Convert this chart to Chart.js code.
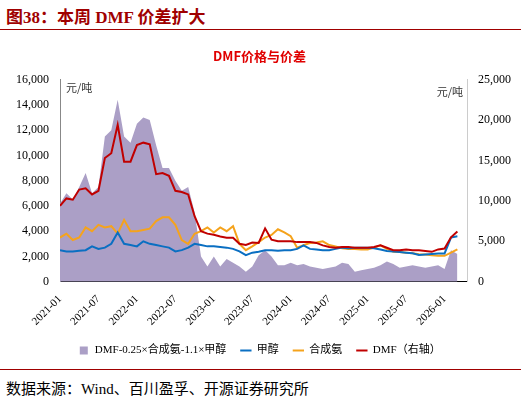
<!DOCTYPE html>
<html><head><meta charset="utf-8">
<script src="https://cdn.jsdelivr.net/npm/chart.js@4/dist/chart.umd.min.js"></script>
<style>
body{margin:0;width:521px;height:405px;background:#fff;overflow:hidden;font-family:"Liberation Serif","Noto Sans CJK SC",serif}
#hd{position:absolute;left:6px;top:3px;font-size:17px;font-weight:bold;color:#a00000;font-family:"Liberation Serif","Noto Sans CJK SC",serif}
#l1{position:absolute;left:0;top:29px;width:521px;height:1px;background:#a00000}
#l2{position:absolute;left:0;top:369px;width:521px;height:1px;background:#a00000}
#ft{position:absolute;left:6px;top:377px;font-size:15px;color:#000}
#wrap{position:absolute;left:0;top:38px;width:521px;height:328px}
</style></head><body>
<div id="hd">图38：本周 DMF 价差扩大</div><div id="l1"></div>
<div id="wrap"><canvas id="c"></canvas></div>
<div id="l2"></div>
<div id="ft">数据来源：Wind、百川盈孚、开源证券研究所</div>
<script>
// months 2021-01 .. 2026-03
const startYear = 2021;
const months = [];
for (let i = 0; i < 63; i++) { const y = startYear + Math.floor(i/12), m = i%12+1; months.push(y + '-' + String(m).padStart(2,'0')); }
const spread = [6200,7000,6500,7500,8600,7000,7500,11500,12000,14400,11500,11000,
 12500,13000,12800,10800,9000,9000,8000,7200,7500,5500,2000,1200,
 2000,1200,1800,1500,1200,800,1200,2100,2500,2000,1300,1300,
 1500,1300,1400,1200,1100,1000,1100,1200,1500,1400,800,900,
 1000,1100,1300,1600,1400,1100,1200,1300,1200,1100,1200,1300,
 1000,2500,2200];
const methanol = [2500,2400,2400,2450,2500,2800,2600,2700,3000,3900,3000,2900,
 2800,3200,3000,2900,2800,2700,2400,2500,2700,3000,2900,2800,
 2800,2750,2700,2600,2400,2100,2300,2370,2500,2500,2450,2500,
 2500,2600,2880,2600,2550,2500,2500,2600,2700,2650,2700,2700,
 2690,2650,2550,2430,2400,2350,2300,2250,2110,2150,2200,2240,
 2240,3500,3600];
const ammonia = [3500,3800,3300,3500,4300,4000,4500,4300,4400,3800,4900,4000,
 4000,4100,4200,4800,5100,5100,4500,3300,3000,3800,4000,4300,
 3900,4300,4000,4400,3000,2500,2800,3140,3500,3700,4150,3900,
 3600,2700,2900,3070,3100,3200,2900,2800,2650,2600,2600,2560,
 2560,2700,2880,2600,2370,2350,2300,2250,2180,2150,2100,2050,
 2050,2300,2560];
const dmf = [9400,10300,10150,11400,11550,10800,11250,15300,15900,19400,14850,14850,
 16900,17200,17000,13300,13450,13100,11250,11100,10800,8100,6250,5950,
 5800,5600,5450,5450,4700,4550,4850,4800,6600,5200,5000,5000,
 5000,4900,4900,4900,4800,4500,4300,4200,4300,4300,4200,4200,
 4200,4300,4500,4200,3900,3900,4000,3900,3900,3800,3700,4000,
 4100,5500,6200];
const leftTicks = [0,2000,4000,6000,8000,10000,12000,14000,16000];
const rightTicks = [0,5000,10000,15000,20000,25000];

const pts = a => a.map((v,i)=>({x:i,y:v}));
const fmt = v => v.toLocaleString('en-US');
const serif = '"Liberation Serif","Noto Sans CJK SC",serif';
const unitPlugin = {id:'unit',afterDraw(ch){const c=ch.ctx,a=ch.chartArea;c.save();c.font='11px "Noto Sans CJK SC"';c.fillStyle='#333';
 c.textAlign='left';c.fillText('元/吨',a.left+6,a.top+8);c.textAlign='right';c.fillText('元/吨',a.right-4,a.top+12);c.restore();}};
new Chart(document.getElementById('c'),{
 type:'line',
 data:{datasets:[
  {label:'DMF-0.25×合成氨-1.1×甲醇',data:pts(spread),yAxisID:'y',fill:'origin',backgroundColor:'#ab9fc6',borderWidth:0,pointRadius:0,pointStyle:'rect',order:4},
  {label:'甲醇',data:pts(methanol),yAxisID:'y',borderColor:'#0a6fc2',borderWidth:2,pointRadius:0,pointStyle:'line',order:2},
  {label:'合成氨',data:pts(ammonia),yAxisID:'y',borderColor:'#f5a31c',borderWidth:2,pointRadius:0,pointStyle:'line',order:3},
  {label:'DMF（右轴）',data:pts(dmf),yAxisID:'y1',borderColor:'#c00000',borderWidth:2,pointRadius:0,pointStyle:'line',order:1}
 ]},
 options:{responsive:true,maintainAspectRatio:false,animation:false,
  layout:{padding:{left:4,right:6,top:0,bottom:0}},
  plugins:{
   title:{display:true,text:'DMF价格与价差',color:'#e00000',font:{family:'"Noto Sans CJK SC"',size:13,weight:'bold'},padding:{top:10,bottom:16}},
   legend:{position:'bottom',labels:{usePointStyle:true,boxWidth:22,boxHeight:8,color:'#000',font:{family:serif,size:11},padding:14,
     sort:(a,b)=>a.datasetIndex-b.datasetIndex}},
   tooltip:{enabled:false}},
  scales:{
   x:{type:'linear',min:0,max:63.5,grid:{display:false},border:{color:'#000'},
      afterBuildTicks(s){s.ticks=[0,6,12,18,24,30,36,42,48,54,60].map(v=>({value:v}));},
      ticks:{color:'#000',font:{family:serif,size:11},maxRotation:45,minRotation:45,autoSkip:false,callback:v=>months[v]||''}},
   y:{position:'left',min:0,max:16000,grid:{display:false},border:{color:'#888'},
      afterBuildTicks(s){s.ticks=leftTicks.map(v=>({value:v}));},
      afterFit(s){s.width=56;},ticks:{color:'#000',font:{family:serif,size:12},callback:fmt}},
   y1:{position:'right',min:0,max:25000,grid:{display:false},border:{color:'#ccc'},
      afterBuildTicks(s){s.ticks=rightTicks.map(v=>({value:v}));},
      afterFit(s){s.width=48;},ticks:{color:'#000',font:{family:serif,size:12},callback:fmt}}
  }},
 plugins:[unitPlugin]
});
</script></body></html>
